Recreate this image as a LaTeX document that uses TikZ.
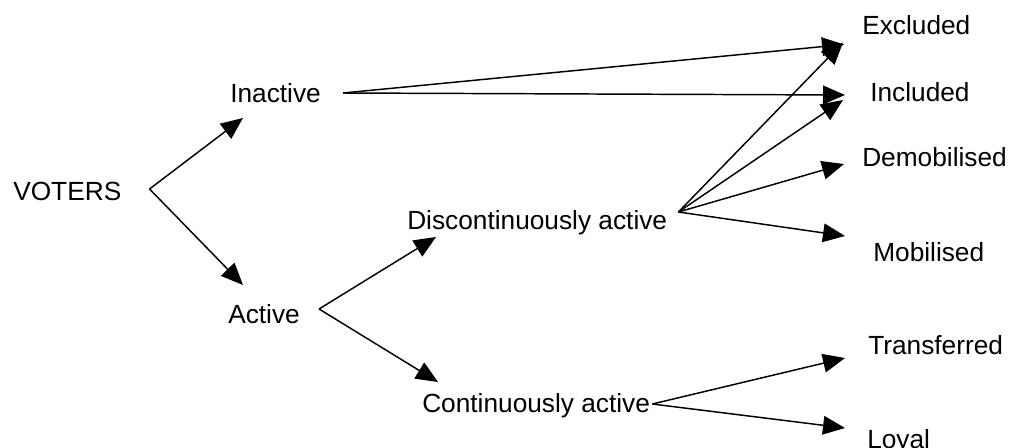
\documentclass[tikz,border=0pt]{standalone}
\usepackage{fontspec}
\setmainfont{Liberation Sans}
\usetikzlibrary{arrows.meta}

\begin{document}
\begin{tikzpicture}[x=0.75pt, y=-0.75pt,
        lbl/.style={inner sep=0pt, anchor=west, text height=14.25pt, text depth=0pt, font=\fontsize{19.7}{22}\selectfont},
        arr/.style={line width=1.1pt, -{Triangle[length=16.5pt, width=14pt]}}]
        \useasboundingbox (0,0) rectangle (1009,447);

        \node[lbl] (voters) at (13,190.5) {VOTERS};
        \node[lbl] (inact) at (230,92.5) {Inactive};
        \node[lbl] (act) at (228,313.5) {Active};
        \node[lbl] (disc) at (407,219.5) {Discontinuously active};
        \node[lbl] (cont) at (422,402.5) {Continuously active};
        \node[lbl] (excl) at (862,24.5) {Excluded};
        \node[lbl] (incl) at (870,91.5) {Included};
        \node[lbl] (demob) at (862,156.5) {Demobilised};
        \node[lbl] (mob) at (873,251.5) {Mobilised};
        \node[lbl] (trans) at (868,344.5) {Transferred};
        \node[lbl] (loyal) at (867,438.5) {Loyal};

        \draw[arr] ([shift={(28,-1.5)}]voters.east) -- ([shift={(13,25.5)}]inact.west);
        \draw[arr] ([shift={(28,-1.5)}]voters.east) -- ([shift={(15,-28.5)}]act.west);

        \draw[arr] ([shift={(22,0.5)}]inact.east) -- ([shift={(-18,20)}]excl.west);
        \draw[arr] ([shift={(22,0.5)}]inact.east) -- ([shift={(-25,3.5)}]incl.west);

        \draw[arr] ([shift={(19,-4.5)}]act.east) -- ([shift={(29,17.5)}]disc.west);
        \draw[arr] ([shift={(19,-4.5)}]act.east) -- ([shift={(16,-20.5)}]cont.west);

        \draw[arr] ([shift={(11,-7.5)}]disc.east) -- ([shift={(-19,18)}]excl.west);
        \draw[arr] ([shift={(11,-7.5)}]disc.east) -- ([shift={(-27,8.5)}]incl.west);
        \draw[arr] ([shift={(11,-7.5)}]disc.east) -- ([shift={(-18,7.5)}]demob.west);
        \draw[arr] ([shift={(11,-7.5)}]disc.east) -- ([shift={(-28,-15.5)}]mob.west);

        \draw[arr] ([shift={(2,1.5)}]cont.east) -- ([shift={(-23,13.5)}]trans.west);
        \draw[arr] ([shift={(2,1.5)}]cont.east) -- ([shift={(-22,-10.5)}]loyal.west);
    \end{tikzpicture}
\end{document}
